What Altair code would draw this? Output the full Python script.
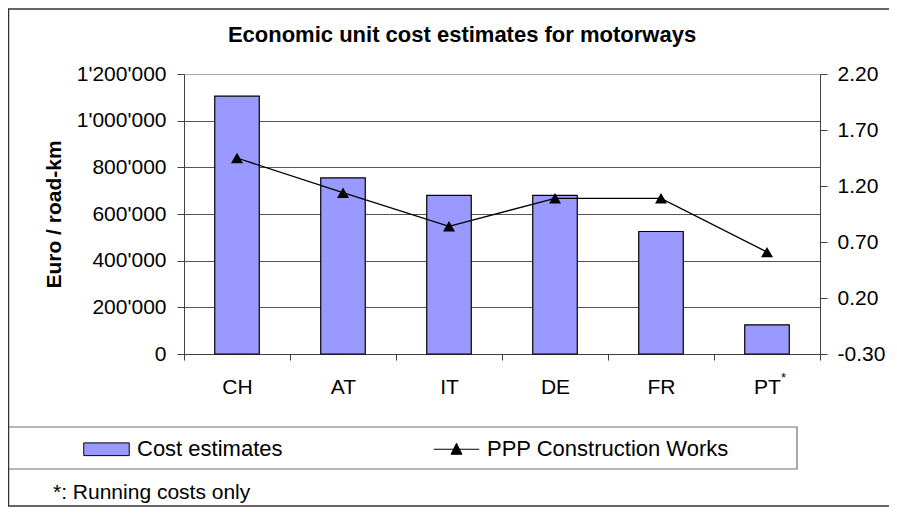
import altair as alt
import pandas as pd

# ---- data ----
countries = ["CH", "AT", "IT", "DE", "FR", "PT"]
cost_estimates = [1105000, 755000, 680000, 680000, 525000, 125000]
ppp_construction = [1.45, 1.14, 0.84, 1.09, 1.09, 0.61]
series_names = ["Cost estimates", "PPP Construction Works"]
left_ticks = [0, 200000, 400000, 600000, 800000, 1000000, 1200000]
right_ticks = [-0.30, 0.20, 0.70, 1.20, 1.70, 2.20]
title_text = ["Economic unit cost estimates for motorways"]
footnote_text = ["*: Running costs only"]
note_country = ["PT"]
note_mark = ["*"]

FONT = "Liberation Sans"
BAR_COLOR = "#9999FF"

df = pd.DataFrame({"country": countries, "cost": cost_estimates, "ppp": ppp_construction})

x_enc = alt.X(
    "country:N",
    sort=countries,
    scale=alt.Scale(domain=countries, paddingInner=0, paddingOuter=0),
    axis=alt.Axis(
        title=None, labelAngle=0, tickBand="extent", tickSize=6, labelPadding=16,
        labelFont=FONT, labelFontSize=21, labelColor="black",
        domainColor="#404040", tickColor="#404040", grid=False,
    ),
)

bars = alt.Chart(df).mark_bar(
    fill=BAR_COLOR, stroke="black", strokeWidth=1.2, width=alt.RelativeBandSize(0.42)
).encode(
    x=x_enc,
    y=alt.Y(
        "cost:Q",
        scale=alt.Scale(domain=[0, 1200000], nice=False),
        axis=alt.Axis(
            title="Euro / road-km", values=left_ticks, format=",d",
            labelFont=FONT, labelFontSize=21, labelColor="black", labelPadding=11,
            tickSize=7, tickColor="#404040", domainColor="#404040",
            titleFont=FONT, titleFontSize=21, titleFontWeight="bold", titleColor="black",
            titlePadding=12,
            grid=True,
            gridColor={"condition": {"test": "datum.value >= 1200000", "value": "#a8a8a8"}, "value": "#555555"},
        ),
    ),
)

y_right = alt.Y(
    "ppp:Q",
    scale=alt.Scale(domain=[-0.3, 2.2], nice=False, zero=False),
    axis=alt.Axis(
        orient="right", title=None, values=right_ticks, format=".2f",
        labelFont=FONT, labelFontSize=21, labelColor="black", labelPadding=10,
        tickSize=7, tickColor="#404040", domainColor="#404040", grid=False,
    ),
)

line = alt.Chart(df).mark_line(color="black", strokeWidth=1.3).encode(
    x=alt.X("country:N", sort=countries), y=y_right
)
points = alt.Chart(df).mark_point(
    shape="triangle-up", filled=True, color="black", size=144, opacity=1
).encode(x=alt.X("country:N", sort=countries), y=alt.Y("ppp:Q"))

line_layer = alt.layer(line, points)

# asterisk beside PT
note = alt.Chart(pd.DataFrame({"country": note_country, "m": note_mark})).mark_text(
    font=FONT, fontSize=13, align="left", baseline="top", dx=14, color="black"
).encode(x=alt.X("country:N", sort=countries), y=alt.value(298), text="m:N")

# legend (built from the colour/shape scales)
rect_path = "M-1,-0.28H1V0.28H-1Z"
line_path = "M-1,0H1M-0.24,0.22L0,-0.26L0.24,0.22Z"
leg = alt.Legend(
    orient="none", legendX=-101, legendY=351.5, direction="horizontal", columns=2,
    title=None, padding=0, symbolSize=2070, labelFont=FONT, labelFontSize=22,
    labelColor="black", labelOffset=7, columnPadding=148, labelLimit=500,
    symbolStrokeWidth=1, symbolStrokeColor="black",
)
legend_df = pd.DataFrame({"series": series_names})
legend_layer = alt.Chart(legend_df).mark_point(
    filled=True, stroke="black", strokeWidth=1, opacity=1
).encode(
    color=alt.Color("series:N", scale=alt.Scale(domain=series_names, range=[BAR_COLOR, "black"]), legend=leg),
    shape=alt.Shape("series:N", scale=alt.Scale(domain=series_names, range=[rect_path, line_path]), legend=leg),
).transform_filter("false")

one = pd.DataFrame({"k": [0]})
title = alt.Chart(pd.DataFrame({"t": title_text})).mark_text(
    font=FONT, fontSize=22, fontWeight="bold", align="center", baseline="alphabetic", color="black"
).encode(x=alt.value(278), y=alt.value(-32), text="t:N")

footnote = alt.Chart(pd.DataFrame({"t": footnote_text})).mark_text(
    font=FONT, fontSize=21, align="left", baseline="alphabetic", color="black"
).encode(x=alt.value(-131), y=alt.value(425), text="t:N")

legend_box = alt.Chart(one).mark_rect(fillOpacity=0, stroke="#707070", strokeWidth=1.2).encode(
    x=alt.value(-176), x2=alt.value(613), y=alt.value(353), y2=alt.value(395)
)
outer_box = alt.Chart(one).mark_rect(fillOpacity=0, stroke="#333333", strokeWidth=1.5).encode(
    x=alt.value(-175.5), x2=alt.value(760), y=alt.value(-65), y2=alt.value(432)
)

chart = alt.layer(
    bars, line_layer, note, legend_layer, title, footnote, legend_box, outer_box
).resolve_scale(
    y="independent"
).properties(
    width=636, height=280,
    autosize=alt.AutoSizeParams(type="none"),
    padding={"left": 176, "top": 66, "right": 69, "bottom": 153},
    background="white",
).configure(
    locale={"number": {"decimal": ".", "thousands": "'", "grouping": [3],
                       "currency": ["", ""], "minus": "-"}}
).configure_view(stroke=None)

chart.save("out.html", embed_options={"renderer": "svg", "actions": False})
